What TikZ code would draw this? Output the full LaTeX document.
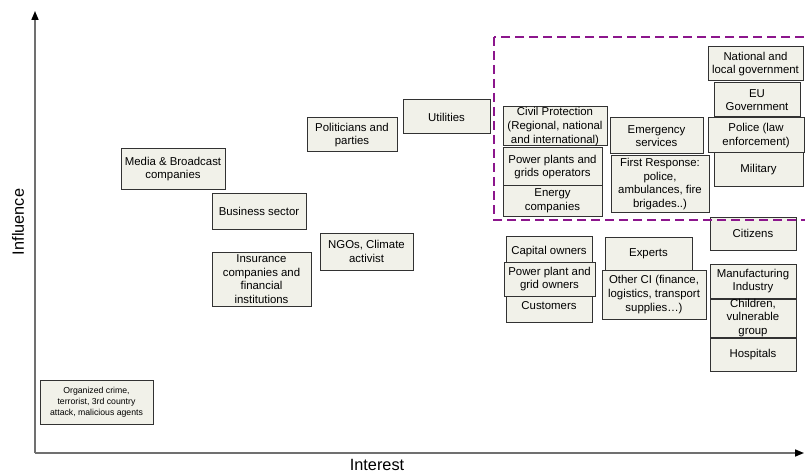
\documentclass[tikz,border=0pt]{standalone}
\usepackage{fontspec}
\setmainfont{Liberation Sans}
\usetikzlibrary{arrows.meta, positioning}
\definecolor{boxfill}{RGB}{241,241,233}
\definecolor{boxline}{RGB}{50,50,50}
\definecolor{axisgray}{RGB}{112,112,112}
\definecolor{keypurple}{RGB}{140,22,140}
\tikzset{
    %Define standard arrow tip
    >={Triangle[length=9pt,width=7pt,color=black]},
}

\begin{document}
\begin{tikzpicture}[
  x=1pt, y=-1pt,
  every node/.style = {shape=rectangle, align=center, inner sep=0pt},
  sh/.style = {draw=boxline, line width=1pt, fill=boxfill,
               font=\fontsize{11.4}{13.7}\selectfont},
  sz/.style 2 args = {minimum width=#1pt, minimum height=#2pt},
  small/.style = {font=\fontsize{8.7}{11}\selectfont},
  axis/.style = {draw=axisgray, line width=1.6pt},
  lbl/.style = {font=\fontsize{16.3}{19}\selectfont},
  key/.style = {draw=keypurple, line width=1.8pt, dash pattern=on 9pt off 5pt} ]
  \useasboundingbox (0,0) rectangle (805,473);

  % axes
  \coordinate (orig) at (35,453);
  \coordinate (ytop) at (35,11);
  \coordinate (xend) at (804,453);
  \draw [axis,->] (orig) -- (ytop);
  \draw [axis,->] (orig) -- (xend);
  \node [lbl, rotate=90] (infl) at (18,222) {Influence};
  \node [lbl] (intr) at (377,465) {Interest};

  % low interest
  \node [sh, small, sz={113}{44}] (crime) at (96.5,402)
        {Organized crime,\\terrorist, 3rd country\\attack, malicious agents};
  \node [sh, sz={104}{40}] (media) at (173,169) {Media \& Broadcast\\companies};
  \node [sh, sz={94}{36}] (business) at (259,211) {Business sector};
  \node [sh, sz={99}{54}] (insur) at (261.5,279)
        {Insurance\\companies and\\financial\\institutions};
  \node [sh, sz={90}{34}] (polit) at (352,135) {Politicians and\\parties};
  \node [sh, sz={93}{37}] (ngo) at (366.5,251.5) {NGOs, Climate\\activist};
  \node [sh, sz={87}{34}] (util) at (446.5,117) {Utilities};

  % high interest, high influence
  \node [sh, sz={104}{39}] (civil) at (555,126.5)
        {Civil Protection\\(Regional, national\\and international)};
  \node [sh, sz={99}{38}] (ppgrid) at (552.5,167) {Power plants and\\grids operators};
  \node [sh, sz={99}{30}] (energy) at (552.5,201) {Energy\\companies};
  \node [sh, sz={93}{36}] (emerg) at (656.5,136) {Emergency\\services};
  \node [sh, sz={98}{56}] (first) at (660,184)
        {First Response:\\police,\\ambulances, fire\\brigades..)};
  \node [sh, sz={95}{34}] (natgov) at (755.5,64) {National and\\local government};
  \node [sh, sz={86}{34}] (eugov) at (757,100) {EU\\Government};
  \node [sh, sz={96}{35}] (police) at (756,135.5) {Police (law\\enforcement)};
  \node [sh, sz={89}{34}] (milit) at (758.5,170) {Military};

  % high interest, lower influence
  \node [sh, sz={86}{33}] (citiz) at (753,233.5) {Citizens};
  \node [sh, sz={86}{32}] (capital) at (549,252) {Capital owners};
  \node [sh, sz={86}{32}] (custom) at (549,306) {Customers};
  \node [sh, sz={91}{34}] (ppown) at (549.5,279) {Power plant and\\grid owners};
  \node [sh, sz={87}{33}] (expert) at (648.5,253.5) {Experts};
  \node [sh, sz={104}{49}] (otherci) at (654,294.5)
        {Other CI (finance,\\logistics, transport\\supplies\ldots)};
  \node [sh, sz={86}{34}] (manuf) at (753,281) {Manufacturing\\Industry};
  \node [sh, sz={86}{35}, below=0pt of manuf] (child) {Children,\\vulnerable\\group};
  \node [sh, sz={86}{33}, below=0pt of child] (hosp) {Hospitals};

  % key stakeholders
  \draw [key] (494,37) rectangle (816,220);
\end{tikzpicture}
\end{document}
